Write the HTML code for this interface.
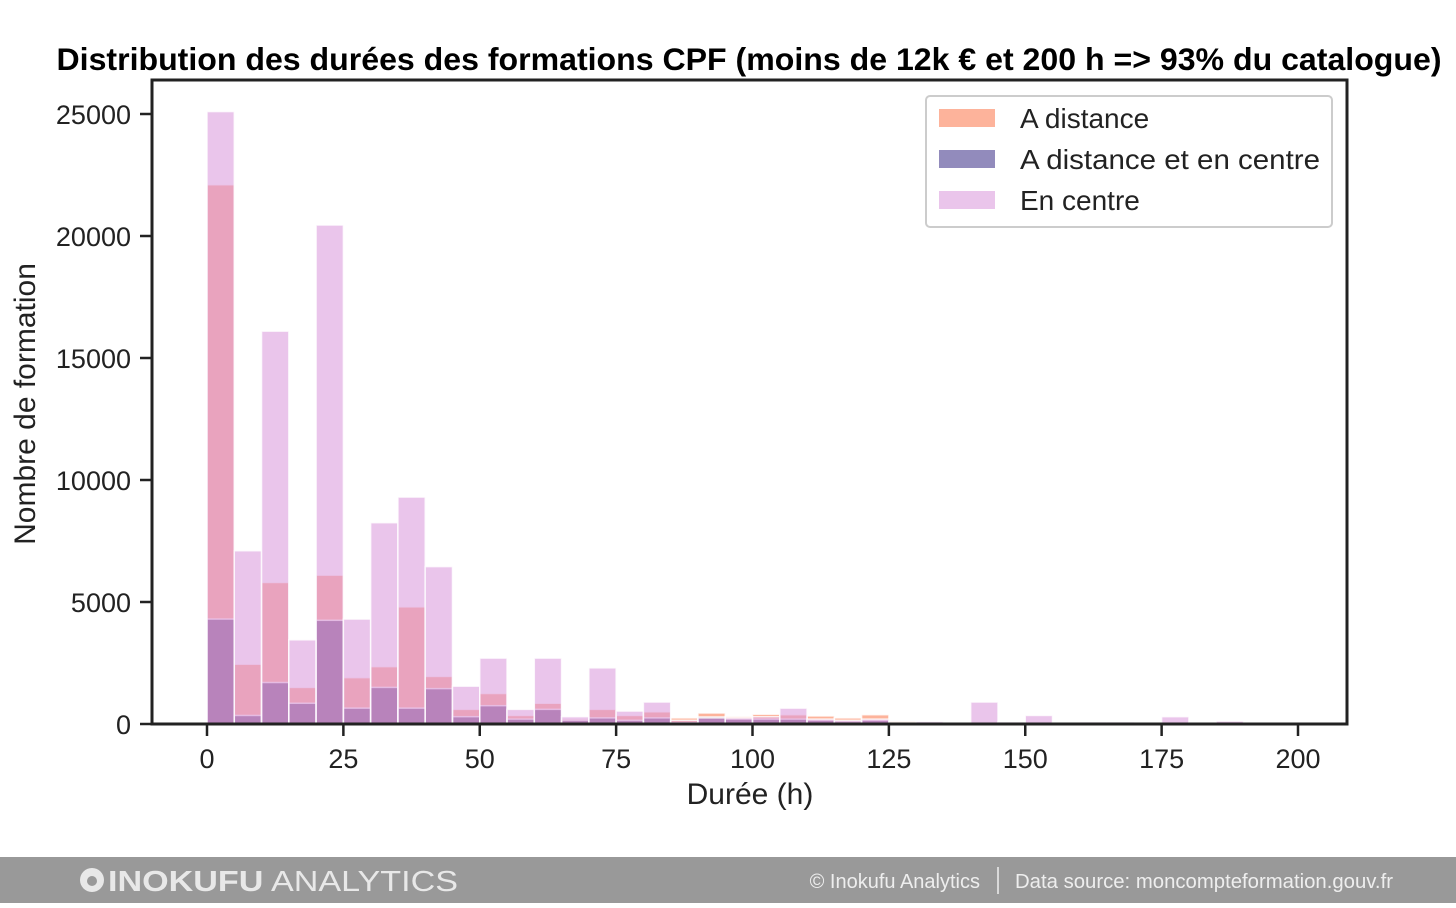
<!DOCTYPE html>
<html><head><meta charset="utf-8"><style>
html,body{margin:0;padding:0;background:#fff;}
svg text{font-family:"Liberation Sans",Arial,sans-serif;}
</style></head><body>
<svg id="chart" width="1456" height="903" viewBox="0 0 1456 903" xmlns="http://www.w3.org/2000/svg">
<rect width="1456" height="903" fill="#fff"/>
<text x="749" y="70" text-anchor="middle" font-size="31.8" font-weight="bold" fill="#000" textLength="1385" lengthAdjust="spacingAndGlyphs">Distribution des durées des formations CPF (moins de 12k € et 200 h =&gt; 93% du catalogue)</text>
<g id="bars"></g>
<rect x="152" y="80" width="1195" height="644" fill="none" stroke="#222" stroke-width="3"/>
<g id="axes"></g>
<text x="750" y="804" text-anchor="middle" font-size="30" fill="#222">Durée (h)</text>
<text transform="translate(35,404) rotate(-90)" text-anchor="middle" font-size="30" fill="#222">Nombre de formation</text>
<g>
<rect x="926" y="96" width="406" height="131" rx="4" fill="#fff" fill-opacity="0.85" stroke="#ccc" stroke-width="2"/>
<rect x="939" y="109" width="56" height="18" fill="#fc9a7a" fill-opacity="0.75"/>
<text x="1020" y="128" font-size="28" fill="#222">A distance</text>
<rect x="939" y="150" width="56" height="18" fill="#4a3d8f" fill-opacity="0.6"/>
<text x="1020" y="169" font-size="28" fill="#222" textLength="300" lengthAdjust="spacingAndGlyphs">A distance et en centre</text>
<rect x="939" y="191" width="56" height="18" fill="#d896da" fill-opacity="0.55"/>
<text x="1020" y="210" font-size="28" fill="#222">En centre</text>
</g>
<rect x="0" y="857" width="1456" height="46" fill="#999"/>
<circle cx="92" cy="880" r="12" fill="#e8e8e8"/>
<circle cx="92" cy="881" r="5" fill="#999"/>
<text x="108" y="891" font-size="29" fill="#e8e8e8" textLength="350" lengthAdjust="spacingAndGlyphs"><tspan font-weight="bold">INOKUFU</tspan><tspan font-weight="normal"> ANALYTICS</tspan></text>
<text x="980" y="888" text-anchor="end" font-size="20" fill="#eee">© Inokufu Analytics</text>
<line x1="998" y1="867" x2="998" y2="894" stroke="#eee" stroke-width="1.5"/>
<text x="1015" y="888" font-size="20" fill="#eee" textLength="378" lengthAdjust="spacingAndGlyphs">Data source: moncompteformation.gouv.fr</text>
</svg>
<script>
const binStarts = [0,5,10,15,20,25,30,35,40,45,50,55,60,65,70,75,80,85,90,95,100,105,110,115,120,125,130,135,140,145,150,155,160,165,170,175,180,185,190,195];
const distanceValues = [22100,2450,5800,1500,6100,1900,2350,4800,1950,600,1250,350,850,200,600,350,500,250,450,300,400,380,330,250,380,100,30,30,20,20,20,20,20,20,10,10,10,10,10,10];
const mixteValues = [4300,350,1700,850,4250,650,1500,650,1450,300,750,200,600,150,250,150,250,50,290,200,200,200,150,100,150,20,20,20,20,20,20,20,20,20,10,10,10,10,10,10];
const centreValues = [25100,7100,16100,3450,20450,4300,8250,9300,6450,1550,2700,600,2700,300,2300,530,900,150,250,250,300,650,200,150,200,50,100,50,900,80,350,50,80,80,30,300,50,120,30,0];
const xTicks = [0,25,50,75,100,125,150,175,200];
const yTicks = [0,5000,10000,15000,20000,25000];
const binWidth = 5;

const NS = "http://www.w3.org/2000/svg";
function xs(v){ return 207 + v*(1298-207)/200; }
function ys(v){ return 724 - v*(724-114)/25000; }
const gb = document.getElementById('bars');
function series(vals, fill, op, name){
  vals.forEach((v,i)=>{
    if(v<=0) return;
    const r = document.createElementNS(NS,'rect');
    const x0 = xs(binStarts[i]), x1 = xs(binStarts[i]+binWidth);
    r.setAttribute('x', x0); r.setAttribute('width', x1-x0);
    r.setAttribute('y', ys(v)); r.setAttribute('height', ys(0)-ys(v));
    r.setAttribute('fill', fill); r.setAttribute('fill-opacity', op);
    r.setAttribute('stroke', '#fff'); r.setAttribute('stroke-opacity','0.8'); r.setAttribute('stroke-width','1.5');
    
    
    gb.appendChild(r);
  });
}
series(distanceValues, '#fc9a7a', 0.75, 'a-distance');
series(mixteValues, '#4a3d8f', 0.6, 'mixte');
series(centreValues, '#d896da', 0.55, 'en-centre');

const ga = document.getElementById('axes');
xTicks.forEach(t=>{
  const l = document.createElementNS(NS,'line');
  l.setAttribute('x1', xs(t)); l.setAttribute('x2', xs(t)); l.setAttribute('y1', 724); l.setAttribute('y2', 736);
  l.setAttribute('stroke', '#222'); l.setAttribute('stroke-width', '2.5');
  
  
  ga.appendChild(l);
  const tx = document.createElementNS(NS,'text');
  tx.setAttribute('x', xs(t)); tx.setAttribute('y', 768); tx.setAttribute('text-anchor','middle');
  tx.setAttribute('font-size','27'); tx.setAttribute('fill','#222');
  tx.textContent = t;
  
  
  ga.appendChild(tx);
});
yTicks.forEach(t=>{
  const l = document.createElementNS(NS,'line');
  l.setAttribute('x1', 140); l.setAttribute('x2', 152); l.setAttribute('y1', ys(t)); l.setAttribute('y2', ys(t));
  l.setAttribute('stroke', '#222'); l.setAttribute('stroke-width', '2.5');
  
  
  ga.appendChild(l);
  const tx = document.createElementNS(NS,'text');
  tx.setAttribute('x', 131); tx.setAttribute('y', ys(t)+10); tx.setAttribute('text-anchor','end');
  tx.setAttribute('font-size','27'); tx.setAttribute('fill','#222');
  tx.textContent = t;
  
  
  ga.appendChild(tx);
});
</script>
</body></html>
